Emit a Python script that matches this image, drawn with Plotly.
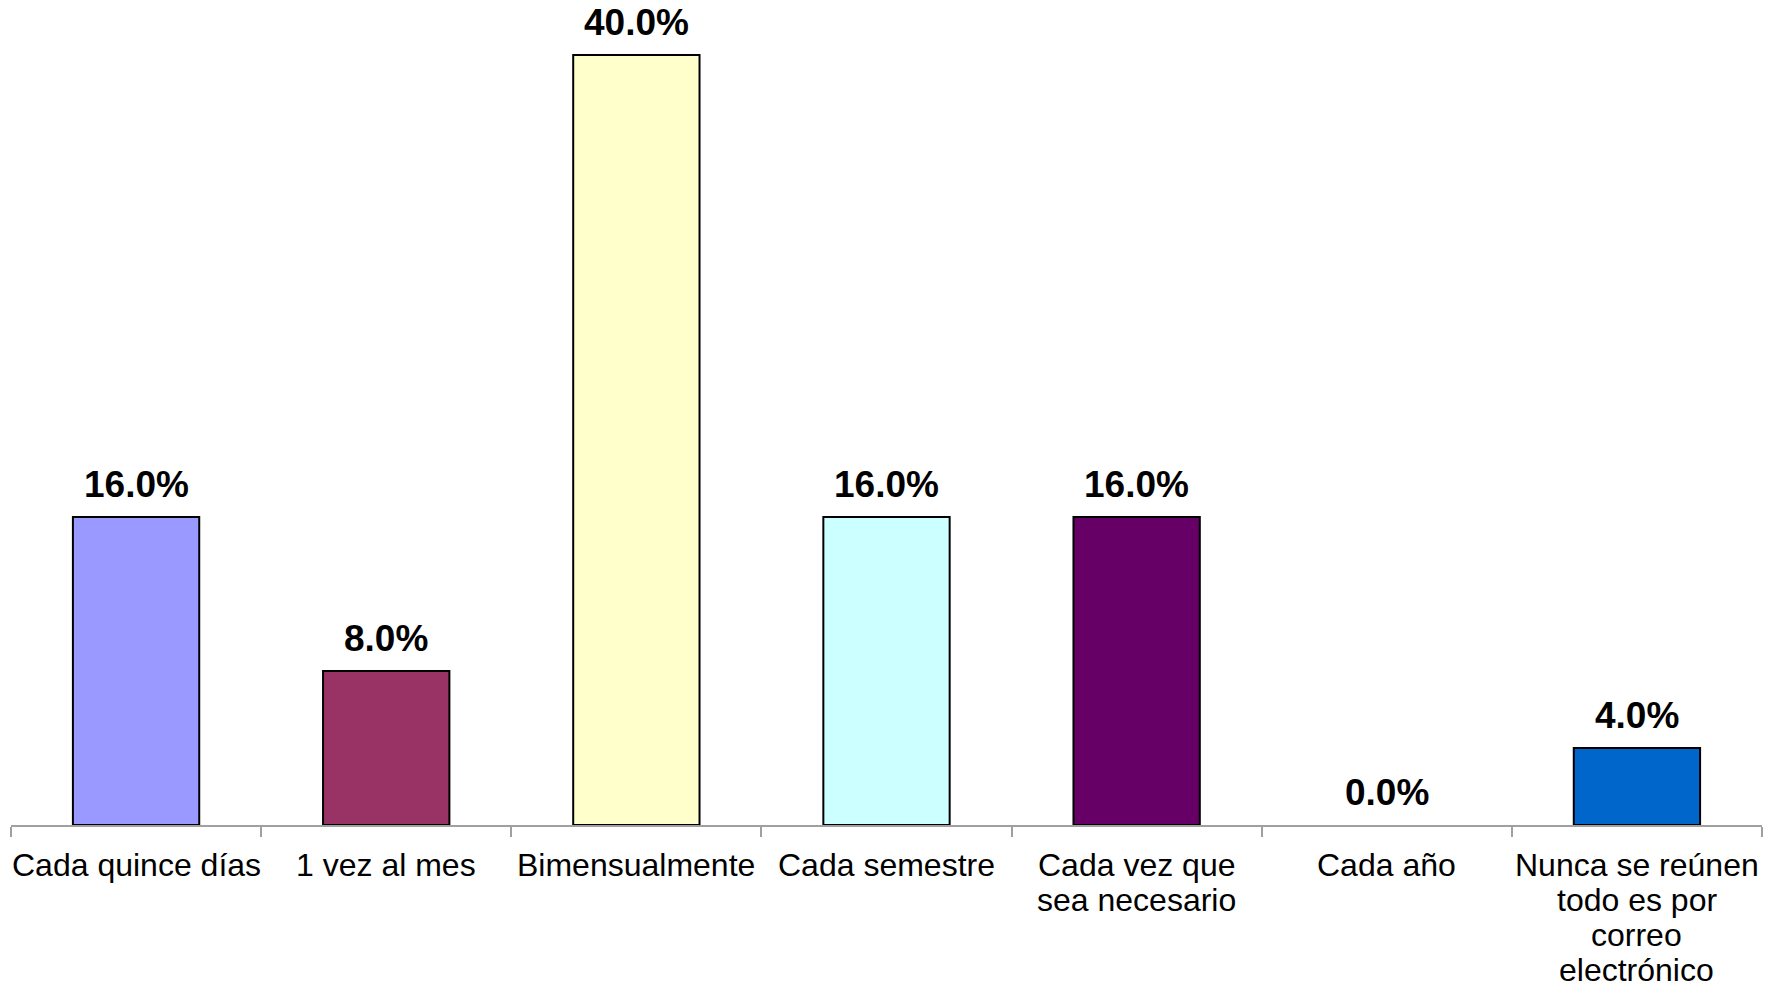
import plotly.graph_objects as go

categories = ["Cada quince días", "1 vez al mes", "Bimensualmente", "Cada semestre",
              "Cada vez que<br>sea necesario", "Cada año",
              "Nunca se reúnen<br>todo es por<br>correo<br>electrónico"]
values = [16.0, 8.0, 40.0, 16.0, 16.0, 0.0, 4.0]
bar_colors = ["#9999FF", "#993366", "#FFFFCC", "#CCFFFF", "#660066", "#FF8080", "#0066CC"]
value_labels = [f"{v:.1f}%" for v in values]

FONT = "Liberation Sans, Arial, sans-serif"

fig = go.Figure()
fig.add_trace(go.Bar(
    x=list(range(len(categories))),
    y=values,
    marker=dict(color=bar_colors,
                line=dict(color="#000000", width=[2 if v > 0 else 0 for v in values])),
    width=0.505,
    hoverinfo="skip",
))

annotations = []
for i, (v, lab) in enumerate(zip(values, value_labels)):
    annotations.append(dict(
        x=i, y=v, xref="x", yref="y", text=lab, showarrow=False,
        yanchor="bottom", xanchor="center", yshift=10,
        font=dict(family=FONT, size=37, color="#000000", weight="bold"),
    ))

LINE_H = 35
for i, cat in enumerate(categories):
    for j, line in enumerate(cat.split("<br>")):
        annotations.append(dict(
            x=i, y=0, xref="x", yref="y", text=line, showarrow=False,
            yanchor="top", xanchor="center", yshift=-20 - j * LINE_H,
            font=dict(family=FONT, size=32, color="#000000"),
        ))

fig.update_layout(
    width=1777, height=988,
    margin=dict(l=11, r=15, t=0, b=163),
    paper_bgcolor="white", plot_bgcolor="white",
    showlegend=False,
    annotations=annotations,
    xaxis=dict(
        range=[-0.5, len(categories) - 0.5],
        showticklabels=False,
        showline=True, linecolor="#A0A0A0", linewidth=2,
        ticks="outside", ticklen=10, tickcolor="#A0A0A0", tickwidth=2,
        tickmode="array", tickvals=[k - 0.5 for k in range(len(categories) + 1)],
        showgrid=False, zeroline=False, fixedrange=True,
    ),
    yaxis=dict(
        range=[0, 42.86], visible=False, showgrid=False, zeroline=False,
        fixedrange=True,
    ),
)
fig.update_traces(cliponaxis=False)

fig.write_html(
    "out.html",
    config={"displayModeBar": False, "staticPlot": True},
    post_script="document.body.style.margin='0px';document.body.style.overflow='hidden';",
)
